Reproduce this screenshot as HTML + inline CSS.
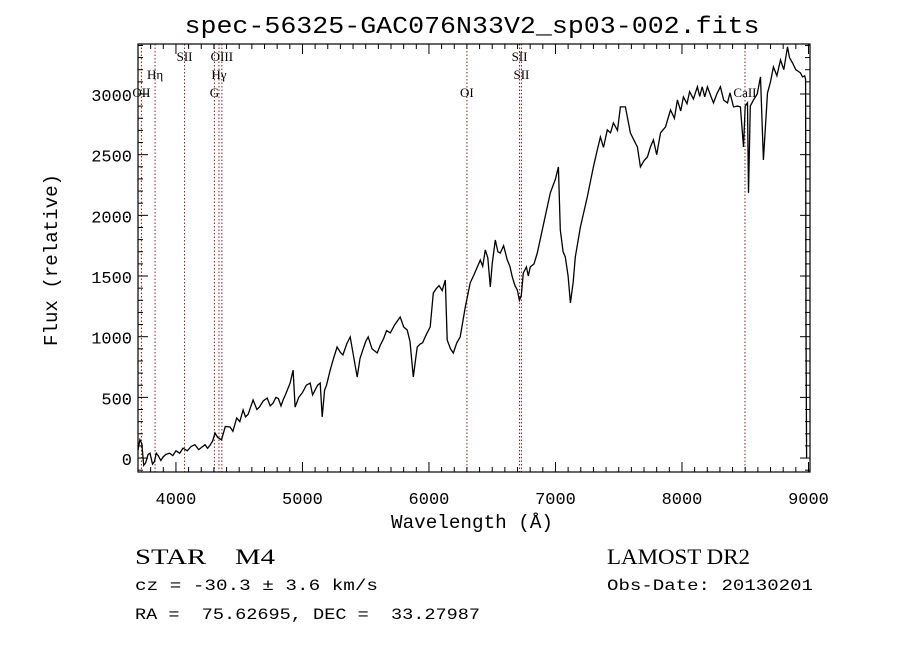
<!DOCTYPE html>
<html><head><meta charset="utf-8"><style>
body{margin:0;background:#fff}
svg text{font-family:"Liberation Mono",monospace;fill:#000;white-space:pre}
.serif{font-family:"Liberation Serif",serif}
</style></head><body>
<svg id="chart" width="900" height="649" xmlns="http://www.w3.org/2000/svg" xml:space="preserve">
<rect width="900" height="649" fill="#fff"/>
<g id="lines"></g>
<g id="axes"></g>
<path id="spec" fill="none" stroke="#000" stroke-width="1.3"/>
<text x="472" y="33" text-anchor="middle" font-size="24" textLength="575" lengthAdjust="spacingAndGlyphs">spec-56325-GAC076N33V2_sp03-002.fits</text>
<text x="472" y="528" text-anchor="middle" font-size="19" textLength="162" lengthAdjust="spacingAndGlyphs">Wavelength (Å)</text>
<text transform="translate(57,260) rotate(-90)" text-anchor="middle" font-size="19" textLength="172" lengthAdjust="spacingAndGlyphs">Flux (relative)</text>
<text class="serif" x="135" y="564" font-size="22" textLength="140" lengthAdjust="spacingAndGlyphs">STAR    M4</text>
<text x="135" y="590" font-size="16" textLength="243" lengthAdjust="spacingAndGlyphs">cz = -30.3 ± 3.6 km/s</text>
<text x="135" y="619" font-size="16" textLength="345" lengthAdjust="spacingAndGlyphs">RA =  75.62695, DEC =  33.27987</text>
<text class="serif" x="607" y="564" font-size="22" textLength="143" lengthAdjust="spacingAndGlyphs">LAMOST DR2</text>
<text x="607" y="590" font-size="16" textLength="206" lengthAdjust="spacingAndGlyphs">Obs-Date: 20130201</text>
</svg>
<script>
const wavelengths=[3700,3715,3730,3745,3760,3780,3795,3815,3830,3845,3860,3880,3898,3920,3950,3975,4000,4030,4056,4090,4120,4150,4180,4205,4230,4250,4270,4290,4309,4330,4360,4390,4428,4450,4480,4505,4531,4550,4570,4590,4610,4640,4660,4690,4721,4745,4768,4790,4810,4830,4847,4865,4880,4902,4926,4942,4970,5000,5030,5061,5080,5100,5120,5140,5156,5175,5190,5219,5245,5274,5300,5320,5350,5377,5400,5433,5455,5480,5500,5520,5550,5591,5615,5640,5665,5694,5730,5773,5800,5828,5850,5876,5907,5930,5950,5980,6010,6034,6060,6080,6105,6129,6144,6170,6192,6220,6247,6287,6326,6360,6406,6425,6445,6465,6485,6500,6524,6545,6564,6590,6619,6640,6659,6680,6698,6715,6730,6746,6770,6785,6801,6830,6856,6900,6959,7000,7023,7038,7060,7078,7100,7118,7140,7157,7197,7252,7300,7331,7355,7380,7410,7435,7458,7490,7513,7553,7592,7620,7648,7671,7700,7727,7750,7774,7800,7830,7870,7909,7940,7964,7990,8011,8040,8060,8090,8122,8140,8160,8180,8201,8230,8249,8275,8304,8330,8360,8380,8407,8440,8462,8486,8500,8518,8526,8540,8565,8595,8621,8644,8676,8700,8723,8750,8779,8805,8834,8850,8874,8900,8937,8953,8970,8977,8980,8985];
const fluxes=[66,150,120,-60,-41,30,40,-50,-30,40,20,-20,8,30,40,20,60,40,82,60,95,110,70,90,110,80,107,140,206,170,150,260,256,220,330,300,396,340,360,420,478,400,420,470,495,430,453,500,490,430,478,520,560,618,725,420,500,540,600,618,520,560,600,618,338,560,600,725,820,915,870,850,940,998,860,668,820,900,960,998,900,866,930,980,1050,1031,1100,1162,1080,1055,960,668,915,940,950,1020,1080,1360,1400,1420,1380,1467,973,900,866,950,998,1245,1443,1520,1632,1580,1715,1650,1410,1600,1797,1700,1690,1750,1632,1580,1492,1420,1385,1300,1340,1525,1575,1500,1575,1600,1690,1900,2185,2300,2399,1880,1700,1657,1500,1278,1450,1657,1904,2152,2399,2539,2646,2560,2704,2680,2762,2700,2894,2894,2679,2620,2564,2399,2450,2481,2560,2622,2500,2679,2729,2869,2800,2951,2860,2976,2920,3020,2960,3059,2980,3059,2976,3059,2976,2927,3000,3059,2950,2927,3010,2894,2900,2894,2564,2900,2927,2185,2900,2951,3000,3141,2457,3009,3100,3223,3150,3281,3200,3388,3300,3256,3200,3174,3141,3150,3120,1100,0];
const xTicks=[4000,5000,6000,7000,8000,9000];
const yTicks=[0,500,1000,1500,2000,2500,3000];
const lineWaves=[3727,3835,4068,4304,4340,4363,6300,6716,6731,8498];
const lineLabels=["OII","Hη","SII","G","Hγ","OIII","OI","SII","SII","CaII"];
const lineRows=[2,1,0,2,1,0,2,0,1,2];

const L=138,R=810,T=44,B=472,X0=3700,X1=9012,Y0=-115,Y1=3412;
const sx=w=>L+(w-X0)/(X1-X0)*(R-L);
const sy=f=>B-(f-Y0)/(Y1-Y0)*(B-T);
const NS="http://www.w3.org/2000/svg";
function mk(t,a,p){const e=document.createElementNS(NS,t);for(const k in a)e.setAttribute(k,a[k]);p.appendChild(e);return e;}
const ax=document.getElementById('axes'), lg=document.getElementById('lines');

const frame=mk('rect',{x:L,y:T,width:R-L,height:B-T,fill:'none',stroke:'#000','stroke-width':1.2},ax);


for(let w=3800;w<=9000;w+=100){const x=sx(w);const maj=w%1000===0;const len=maj?10:5;
 mk('line',{x1:x,x2:x,y1:B,y2:B-len,stroke:'#000'},ax);mk('line',{x1:x,x2:x,y1:T,y2:T+len,stroke:'#000'},ax);}
for(let f=-100;f<=3400;f+=100){const y=sy(f);const maj=f%500===0;const len=maj?10:5;
 mk('line',{x1:L,x2:L+len,y1:y,y2:y,stroke:'#000'},ax);mk('line',{x1:R,x2:R-len,y1:y,y2:y,stroke:'#000'},ax);}
xTicks.forEach(w=>{const t=mk('text',{x:sx(w),y:B+32,'text-anchor':'middle','font-size':17},ax);t.textContent=w;
 
 });
yTicks.forEach(f=>{const t=mk('text',{x:L-6,y:sy(f)+7,'text-anchor':'end','font-size':17},ax);t.textContent=f;
 
 });
lineWaves.forEach((w,i)=>{const x=sx(w);
 const l=mk('line',{x1:x,x2:x,y1:T,y2:B,stroke:'#8b2020','stroke-width':1,'stroke-dasharray':'1.5,2'},lg);
 
 
 const t=mk('text',{x:x,y:T+17+lineRows[i]*18,'text-anchor':'middle','font-size':13,'class':'serif'},lg);
 t.textContent=lineLabels[i];
 
 });
let d='';wavelengths.forEach((w,i)=>{d+=(i?'L':'M')+sx(w).toFixed(1)+','+Math.max(T,Math.min(B,sy(fluxes[i]))).toFixed(1);});
document.getElementById('spec').setAttribute('d',d);
</script>
</body></html>
